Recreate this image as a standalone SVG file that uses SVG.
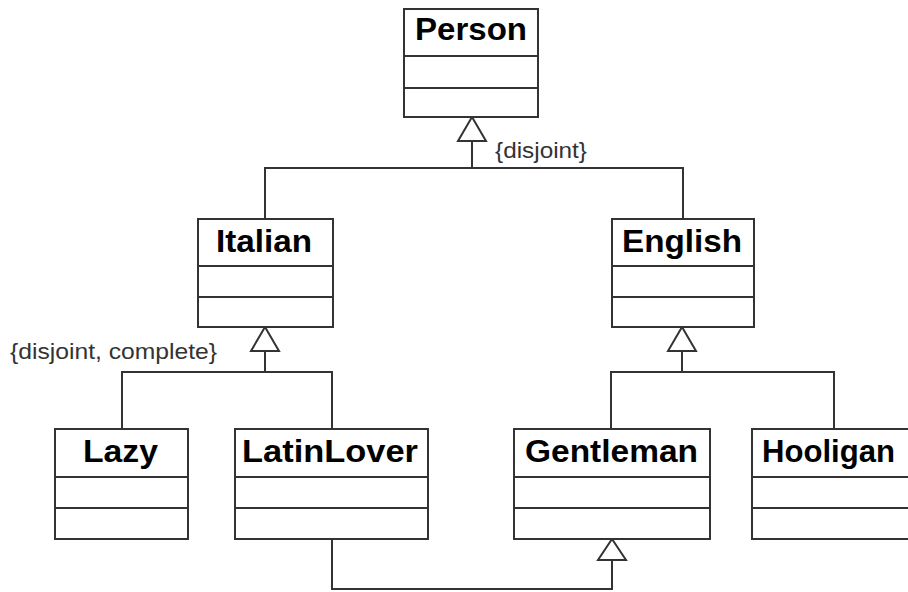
<svg xmlns="http://www.w3.org/2000/svg" width="908" height="592" viewBox="0 0 908 592">
  <style>
    .box { fill: #ffffff; stroke: #333333; stroke-width: 2; }
    .div { stroke: #333333; stroke-width: 2; }
    .name { font-family: "Liberation Sans", Arial, sans-serif; font-weight: bold; font-size: 31px; fill: #000000; }
    .line { fill: none; stroke: #333333; stroke-width: 2; }
    .tri { fill: #ffffff; stroke: #333333; stroke-width: 2; stroke-linejoin: miter; }
    .note { font-family: "Liberation Sans", Arial, sans-serif; font-size: 22px; fill: #333333; }
  </style>
  <rect width="908" height="592" fill="#ffffff"/>

  <!-- generalization connectors -->
  <g id="connectors">
    <!-- Person <- Italian, English -->
    <polyline class="line" points="472,141 472,168"/>
    <polyline class="line" points="265,219 265,168 683,168 683,219"/>
    <polygon class="tri" points="472,117 458,141 486,141"/>
    <!-- Italian <- Lazy, LatinLover -->
    <polyline class="line" points="265,351 265,372"/>
    <polyline class="line" points="122,429 122,372 332,372 332,429"/>
    <polygon class="tri" points="265,327 251,351 279,351"/>
    <!-- English <- Gentleman, Hooligan -->
    <polyline class="line" points="682,351 682,372"/>
    <polyline class="line" points="611,429 611,372 834,372 834,429"/>
    <polygon class="tri" points="682,327 668,351 696,351"/>
    <!-- Gentleman <- LatinLover -->
    <polyline class="line" points="332,539 332,589 612,589 612,560"/>
    <polygon class="tri" points="612,539 598,560 626,560"/>
    <text class="note" x="495" y="158" textLength="92" lengthAdjust="spacingAndGlyphs">{disjoint}</text>
    <text class="note" x="10" y="359" textLength="207" lengthAdjust="spacingAndGlyphs">{disjoint, complete}</text>
  </g>

  <g id="person">
    <rect class="box" x="404" y="9" width="134" height="108"/>
    <line class="div" x1="404" y1="56" x2="538" y2="56"/>
    <line class="div" x1="404" y1="88" x2="538" y2="88"/>
    <text class="name" x="415" y="40" textLength="112" lengthAdjust="spacingAndGlyphs">Person</text>
  </g>

  <g id="italian">
    <rect class="box" x="198" y="219" width="135" height="108"/>
    <line class="div" x1="198" y1="266" x2="333" y2="266"/>
    <line class="div" x1="198" y1="297" x2="333" y2="297"/>
    <text class="name" x="216" y="252" textLength="96" lengthAdjust="spacingAndGlyphs">Italian</text>
  </g>

  <g id="english">
    <rect class="box" x="612" y="219" width="142" height="108"/>
    <line class="div" x1="612" y1="266" x2="754" y2="266"/>
    <line class="div" x1="612" y1="297" x2="754" y2="297"/>
    <text class="name" x="622" y="252" textLength="120" lengthAdjust="spacingAndGlyphs">English</text>
  </g>

  <g id="lazy">
    <rect class="box" x="55" y="429" width="133" height="110"/>
    <line class="div" x1="55" y1="477" x2="188" y2="477"/>
    <line class="div" x1="55" y1="508" x2="188" y2="508"/>
    <text class="name" x="83" y="462" textLength="75" lengthAdjust="spacingAndGlyphs">Lazy</text>
  </g>

  <g id="latinlover">
    <rect class="box" x="235" y="429" width="193" height="110"/>
    <line class="div" x1="235" y1="477" x2="428" y2="477"/>
    <line class="div" x1="235" y1="508" x2="428" y2="508"/>
    <text class="name" x="242" y="462" textLength="176" lengthAdjust="spacingAndGlyphs">LatinLover</text>
  </g>

  <g id="gentleman">
    <rect class="box" x="514" y="429" width="196" height="110"/>
    <line class="div" x1="514" y1="477" x2="710" y2="477"/>
    <line class="div" x1="514" y1="508" x2="710" y2="508"/>
    <text class="name" x="525" y="462" textLength="173" lengthAdjust="spacingAndGlyphs">Gentleman</text>
  </g>

  <g id="hooligan">
    <rect class="box" x="752" y="429" width="166" height="110"/>
    <line class="div" x1="752" y1="477" x2="918" y2="477"/>
    <line class="div" x1="752" y1="508" x2="918" y2="508"/>
    <text class="name" x="762" y="462" textLength="133" lengthAdjust="spacingAndGlyphs">Hooligan</text>
  </g>
</svg>
